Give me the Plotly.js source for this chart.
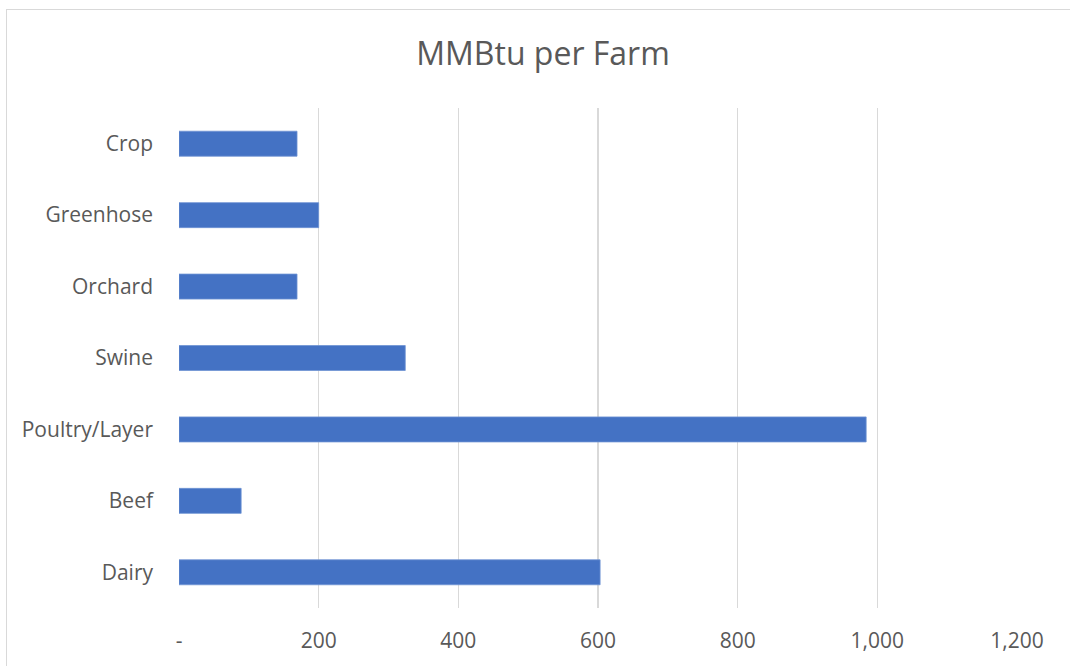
<!DOCTYPE html>
<html>
<head>
<meta charset="utf-8">
<script src="https://cdn.plot.ly/plotly-3.0.1.min.js"></script>
<style>
  html, body { margin: 0; padding: 0; background: #ffffff; }
  #wrap { position: relative; width: 1070px; height: 666px; overflow: hidden; }
  #chart { position: absolute; left: 0; top: 0; width: 1070px; height: 666px; }
  #frame { position: absolute; left: 6px; top: 9px; width: 1100px; height: 700px;
           border-top: 1.5px solid #d9d9d9; border-left: 1.5px solid #d9d9d9; pointer-events: none; }
</style>
</head>
<body>
<div id="wrap">
  <div id="chart"></div>
  <div id="frame"></div>
</div>
<script>
// Farm types, listed bottom to top on the category axis
const farmTypes = ["Dairy", "Beef", "Poultry/Layer", "Swine", "Orchard", "Greenhose", "Crop"];
// Energy use per farm, MMBtu
const mmbtuPerFarm = [603, 89, 984, 324, 169, 200, 169];

// Value axis ticks
const xTickVals = [0, 200, 400, 600, 800, 1000, 1200];
const xTickText = ["-", "200", "400", "600", "800", "1,000", "1,200"];

const textColor = "#595959";
const fontFamily = "'Open Sans', 'Noto Sans', sans-serif";

const trace = {
  type: "bar",
  orientation: "h",
  y: farmTypes,
  x: mmbtuPerFarm,
  marker: { color: "#4472c4", line: { color: "#6f93d3", width: 0.8 } },
  hoverinfo: "x+y"
};

const layout = {
  width: 1070,
  height: 666,
  margin: { l: 179, r: 53, t: 108, b: 58, pad: 0 },
  paper_bgcolor: "#ffffff",
  plot_bgcolor: "#ffffff",
  showlegend: false,
  bargap: 0.65,
  title: {
    text: "MMBtu per Farm",
    font: { family: fontFamily, size: 32, color: textColor },
    xref: "container", x: 0.5075, xanchor: "center",
    yref: "container", y: 0.919, yanchor: "middle"
  },
  xaxis: {
    range: [0, 1200],
    tickmode: "array",
    tickvals: xTickVals,
    ticktext: xTickText,
    showgrid: true,
    gridcolor: "#d9d9d9",
    gridwidth: 1.5,
    zeroline: false,
    showline: false,
    ticks: "",
    ticklabelstandoff: 18,
    tickfont: { family: fontFamily, size: 21, color: textColor },
    fixedrange: true
  },
  yaxis: {
    type: "category",
    showgrid: false,
    zeroline: false,
    showline: false,
    ticks: "",
    ticklabelstandoff: 25,
    tickfont: { family: fontFamily, size: 21, color: textColor },
    fixedrange: true
  }
};

Plotly.newPlot("chart", [trace], layout, { displayModeBar: false, staticPlot: true });
</script>
</body>
</html>
